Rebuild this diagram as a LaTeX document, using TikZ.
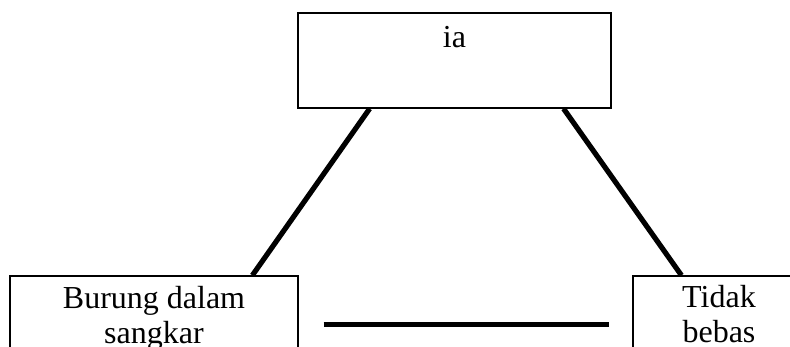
\documentclass[tikz,border=0pt]{standalone}
\usepackage{fontspec}
\setmainfont{Liberation Serif}
\usetikzlibrary{calc}

\tikzset{
  framebox/.style={draw=black, line width=1.3pt, fill=white, inner sep=0pt},
  thickline/.style={draw=black, line width=5.2pt},
  caption/.style={inner sep=0pt, align=center, font=\fontsize{32}{35}\selectfont, anchor=base}
}

\begin{document}
\begin{tikzpicture}[x=1pt, y=-1pt]
  % page frame: the two lower boxes run past the bottom and right edges
  \clip (0,0) rectangle (790,346);
  \fill[white] (0,0) rectangle (790,346);

  % boxes
  \node[framebox, minimum width=313pt, minimum height=95pt] (top) at (454.5,60.5) {};
  \node[framebox, minimum width=288pt, minimum height=150pt] (lbox) at (154,351) {};
  \node[framebox, minimum width=174pt, minimum height=150pt] (rbox) at (720,351) {};

  % box texts (base anchor sits on the last line)
  \node[caption] (toptext) at (454.5,47) {ia};
  \node[caption] (ltext) at (154,343) {Burung dalam\\sangkar};
  \node[caption] (rtext) at (719,342) {Tidak\\bebas};

  % connectors
  \draw[thickline] ($(top.south west)!0.23!(top.south east)$) -- ($(lbox.north west)!0.84!(lbox.north east)$);
  \draw[thickline] ($(top.south west)!0.847!(top.south east)$) -- ($(rbox.north west)!0.28!(rbox.north east)$);
  \coordinate (hstart) at ($(lbox.north east)+(25,49)$);
  \coordinate (hend) at ($(rbox.north west)+(-23,49)$);
  \draw[thickline] (hstart) -- (hend);
\end{tikzpicture}
\end{document}
